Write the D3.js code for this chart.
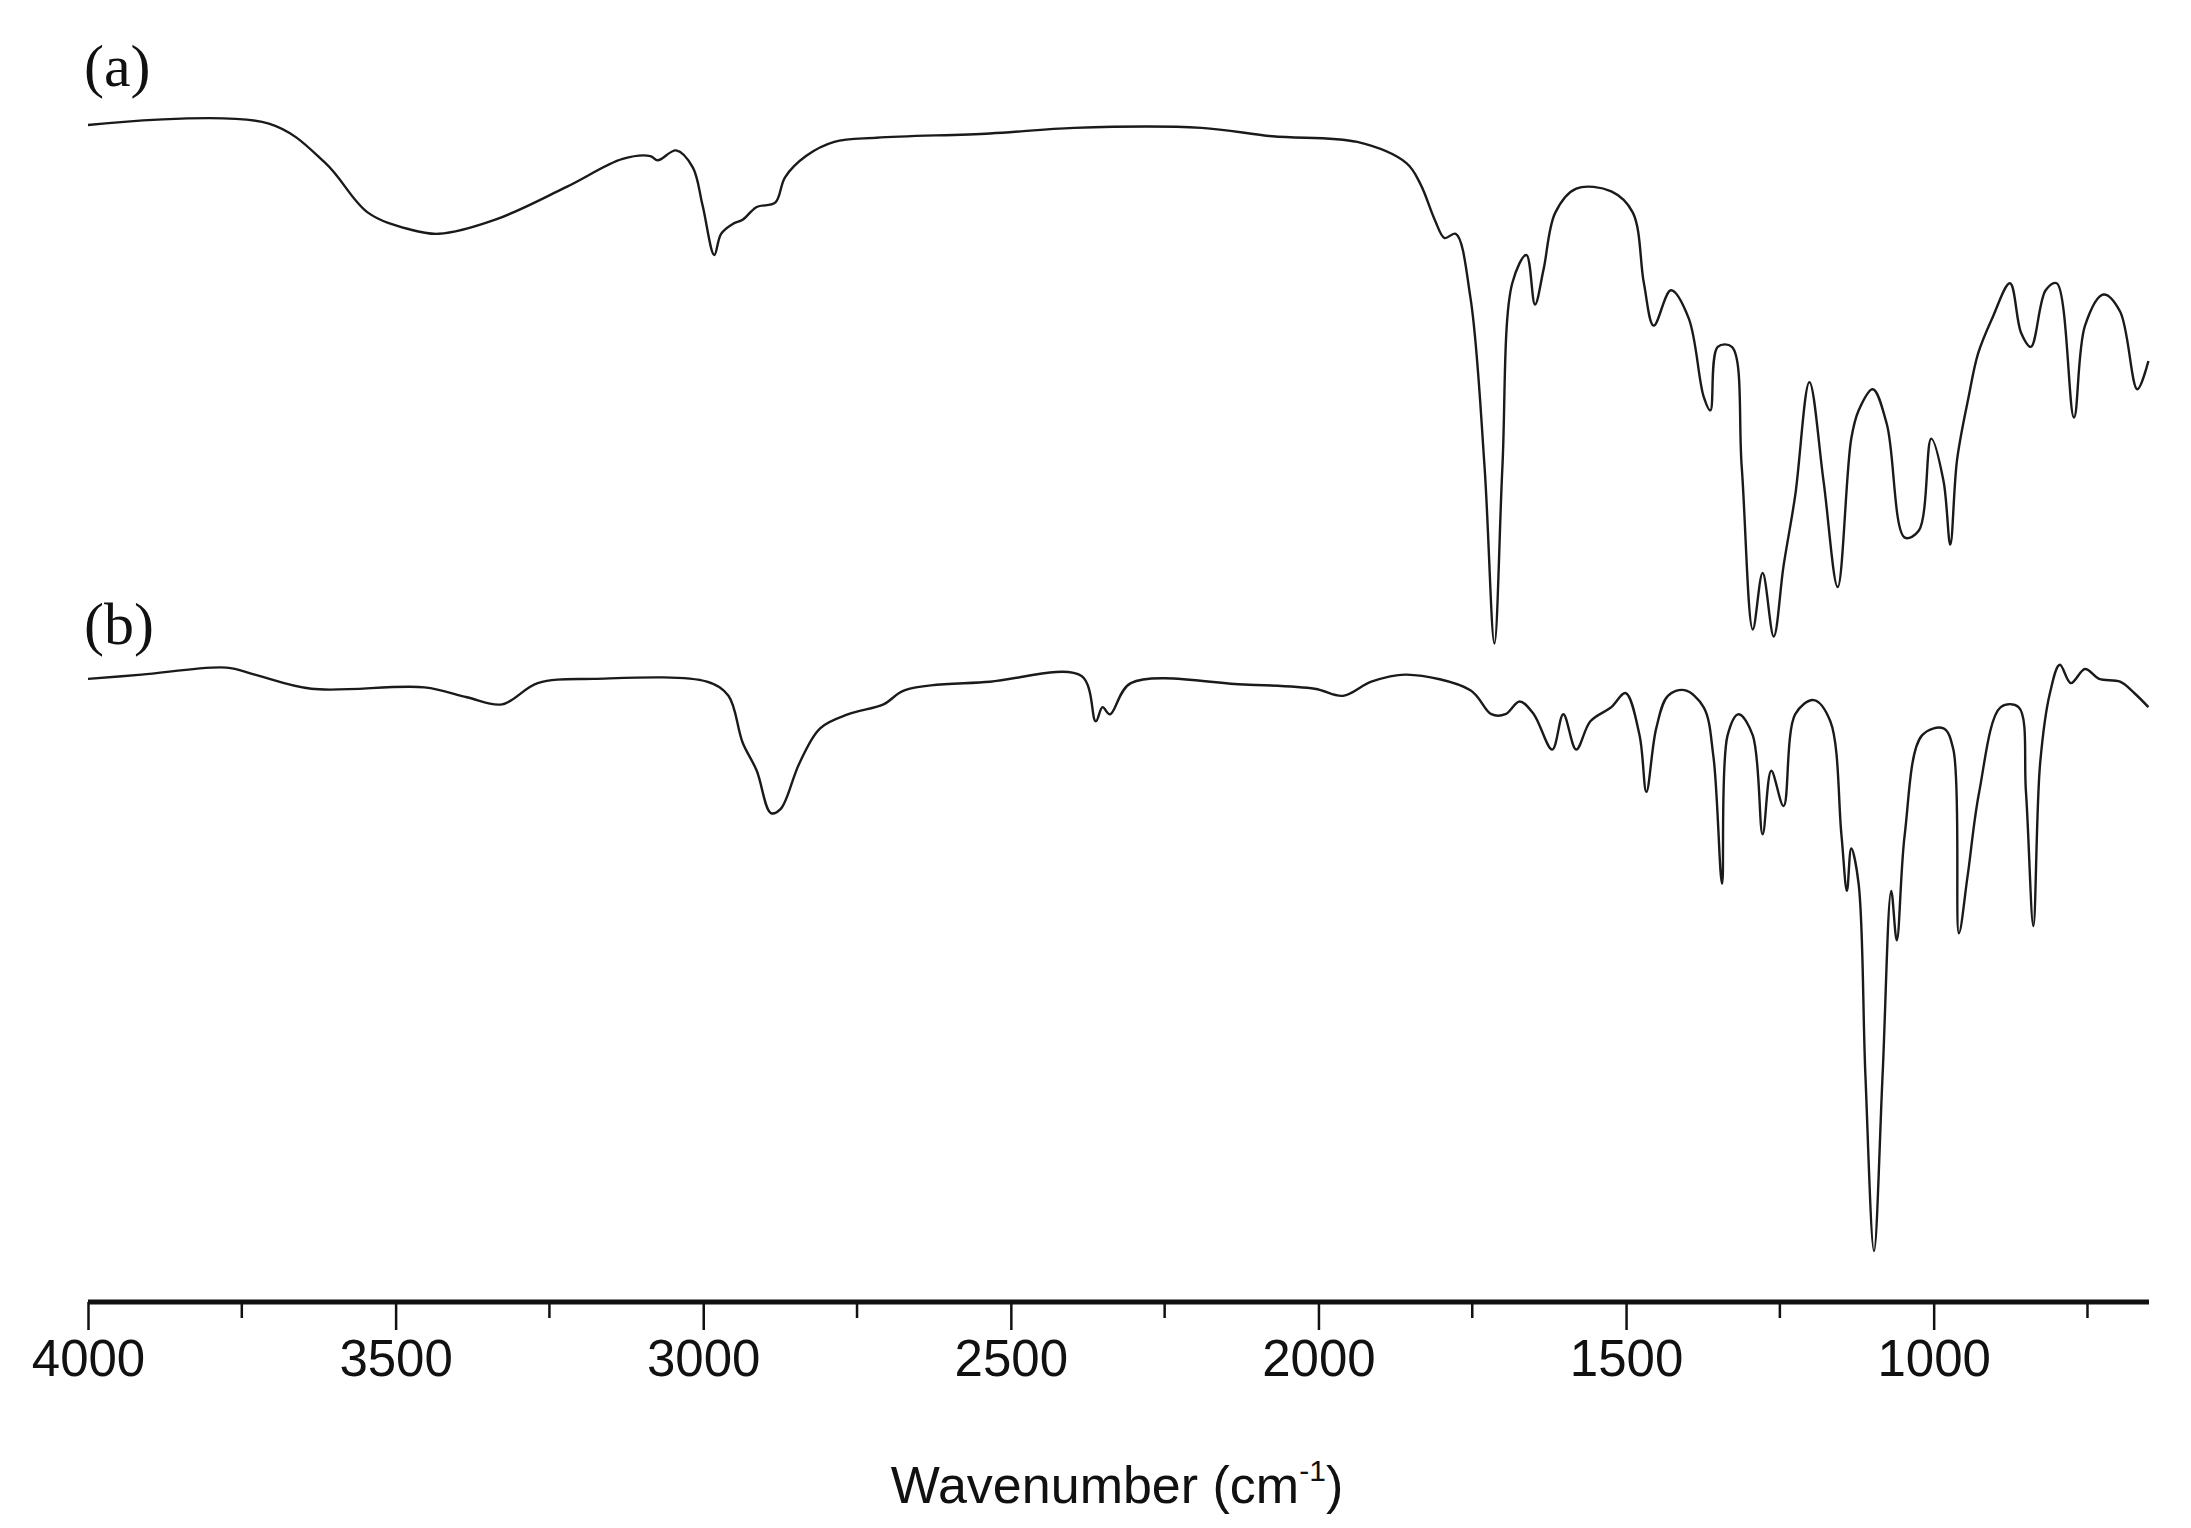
<!DOCTYPE html>
<html>
<head>
<meta charset="utf-8">
<script src="https://cdn.jsdelivr.net/npm/d3@7"></script>
<style>
  body { margin: 0; background: #fff; }
  svg { display: block; }
</style>
</head>
<body>
<svg id="chart" width="2191" height="1528"></svg>
<script>
// spectrum (a): [wavenumber, intensity (a.u., stacked offset)]
var spectrumA = [
  [4000,833],[3706,834],[3614,806],[3545,771],[3476,759],[3430,756],[3338,766],[3223,789],
  [3131,809],[3086,811],[3074,808],[3044,815],[3017,803],[3001,776],[2982,741],[2971,756],
  [2952,763],[2936,766],[2913,775],[2883,778],[2867,796],[2833,811],[2787,821],[2718,824],
  [2534,827],[2397,831],[2190,831],[2075,825],[1937,821],[1857,806],[1834,791],[1811,766],
  [1795,753],[1777,756],[1753,711],[1730,591],[1714,466],[1701,591],[1685,721],[1662,741],
  [1648,706],[1634,731],[1615,771],[1581,788],[1524,786],[1489,771],[1471,721],[1455,691],
  [1427,716],[1398,696],[1374,641],[1363,631],[1351,676],[1328,676],[1312,591],[1294,476],
  [1278,516],[1260,471],[1244,521],[1225,571],[1202,651],[1179,581],[1156,506],[1134,611],
  [1122,631],[1099,646],[1076,621],[1047,541],[1024,546],[1004,611],[984,581],[973,536],
  [962,596],[943,641],[928,671],[905,696],[876,721],[858,686],[842,676],[818,716],[800,721],
  [772,626],[754,691],[724,713],[697,701],[669,646],[651,666]
];

// spectrum (b)
var spectrumB = [
  [4000,441],[3913,444],[3775,449],[3729,444],[3637,434],[3453,435],[3384,428],[3327,423],
  [3269,438],[3178,441],[2994,439],[2959,429],[2936,396],[2913,376],[2890,346],[2874,349],
  [2844,381],[2810,406],[2764,416],[2707,423],[2672,433],[2534,439],[2385,443],[2362,411],
  [2351,421],[2339,416],[2305,438],[2121,437],[2006,434],[1960,429],[1914,439],[1857,444],
  [1753,433],[1719,416],[1696,416],[1673,425],[1650,416],[1620,391],[1602,416],[1581,391],
  [1558,411],[1524,421],[1501,431],[1478,401],[1467,361],[1451,406],[1432,429],[1405,433],
  [1374,421],[1358,386],[1344,296],[1335,401],[1317,416],[1294,401],[1278,331],[1264,376],
  [1244,351],[1225,416],[1195,426],[1168,411],[1150,331],[1141,291],[1134,321],[1122,296],
  [1111,161],[1097,36],[1083,161],[1069,291],[1060,256],[1047,331],[1019,401],[984,406],
  [968,391],[959,261],[945,301],[926,361],[891,421],[862,421],[850,361],[838,266],[827,381],
  [811,431],[795,451],[777,438],[754,448],[731,441],[697,439],[674,431],[651,421]
];

var majorTicks = [4000, 3500, 3000, 2500, 2000, 1500, 1000];
var minorTicks = [3750, 3250, 2750, 2250, 1750, 1250, 750];
var seriesLabels = ["(a)", "(b)"];

var svg = d3.select("#chart");

var x = d3.scaleLinear().domain([4000, 650]).range([88, 2149]);
var y = d3.scaleLinear().domain([0, 833]).range([1302, 125]);

// spectra
var line = d3.line()
  .x(function(d) { return x(d[0]); })
  .y(function(d) { return y(d[1]); })
  .curve(d3.curveCatmullRom.alpha(0.5));

svg.selectAll("path.spec")
  .data([spectrumA, spectrumB])
  .enter()
  .append("path")
  .attr("class", "spec")
  .attr("d", line)
  .attr("fill", "none")
  .attr("stroke", "#1a1a1a")
  .attr("stroke-width", 2.4)
  .attr("stroke-linejoin", "round");

// panel labels
svg.selectAll("text.lab")
  .data(seriesLabels)
  .enter()
  .append("text")
  .attr("class", "lab")
  .attr("x", 84)
  .attr("y", function(d, i) { return i === 0 ? 86 : 644; })
  .attr("font-family", "Liberation Serif, Times New Roman, serif")
  .attr("font-size", 60)
  .attr("fill", "#111")
  .text(function(d) { return d; });

// x axis
var axisG = svg.append("g").attr("transform", "translate(0,1302)");

axisG.call(d3.axisBottom(x).tickValues(majorTicks).tickSize(28).tickPadding(10)
  .tickFormat(d3.format("d")));
axisG.select(".domain").attr("d", "M" + x(4000) + ",0H" + x(650))
  .attr("stroke", "#111").attr("stroke-width", 5);
axisG.selectAll(".tick line").attr("stroke", "#111").attr("stroke-width", 2.5);
axisG.selectAll(".tick text")
  .attr("font-family", "Liberation Sans, Arial, sans-serif")
  .attr("font-size", 51)
  .attr("fill", "#111");

var minorG = svg.append("g").attr("transform", "translate(0,1302)");
minorG.selectAll("line")
  .data(minorTicks)
  .enter()
  .append("line")
  .attr("x1", function(d) { return x(d); })
  .attr("x2", function(d) { return x(d); })
  .attr("y1", 0)
  .attr("y2", 16)
  .attr("stroke", "#111")
  .attr("stroke-width", 2.5);

// axis title
var title = svg.append("text")
  .attr("x", 1117)
  .attr("y", 1503)
  .attr("text-anchor", "middle")
  .attr("font-family", "Liberation Sans, Arial, sans-serif")
  .attr("font-size", 52)
  .attr("fill", "#111");
title.append("tspan").text("Wavenumber (cm");
title.append("tspan").attr("font-size", 30).attr("dy", -22).text("-1");
title.append("tspan").attr("dy", 22).text(")");
</script>
</body>
</html>
